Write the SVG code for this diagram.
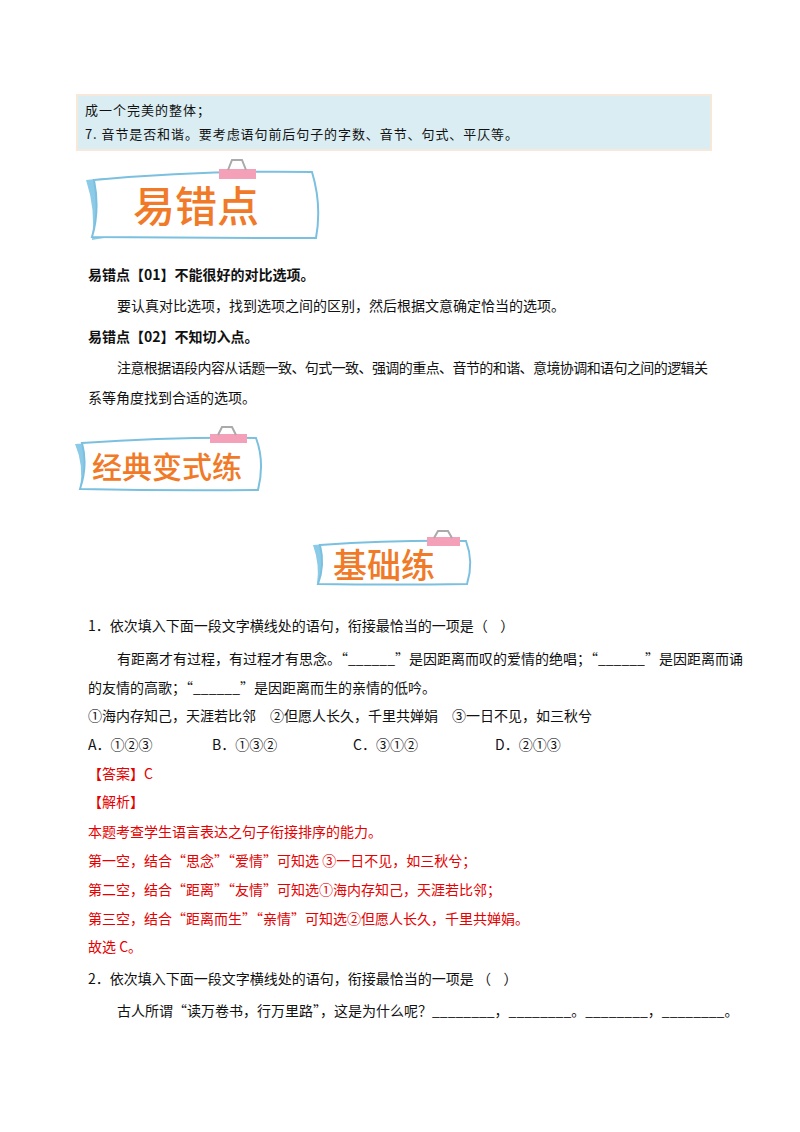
<svg xmlns="http://www.w3.org/2000/svg" width="800" height="1132" viewBox="0 0 800 1132">
<style>
text{font-family:"Noto Sans CJK SC","Liberation Serif",serif;font-size:14px;fill:#111;white-space:pre}
.b{font-weight:bold}
.r{fill:#e60000}
.ban{fill:#f07a28;font-weight:500}
.note{fill:#fff;stroke:#7cc0e0;stroke-width:2}
.flap{fill:#8ccbe8}
.clip{fill:#f3a0b8}
.ring{fill:none;stroke:#aaa;stroke-width:2}
</style>
<rect width="800" height="1132" fill="#fff"/>
<g id="tipbox">
<rect x="77" y="95" width="634" height="55" fill="#daedf2" stroke="#f7e8da" stroke-width="2"/>
<text x="85" y="115" style="font-size:13px" textLength="125">成一个完美的整体；</text>
<text x="85" y="139" style="font-size:13px" textLength="433">7. 音节是否和谐。要考虑语句前后句子的字数、音节、句式、平仄等。</text>
</g>
<g id="banner1">
<path class="flap" d="M86,180 L106,178 L104,238 L92,240 Q96,210 86,180Z"/>
<path class="note" d="M94,180 Q200,170 312,172 Q322,205 316,238 Q200,238 92,237 Q100,210 94,180Z"/>
<rect class="clip" x="219" y="169" width="37" height="10"/>
<path class="ring" d="M228,170 L232,160 L242,160 L246,170"/>
<text class="ban" x="133" y="222" style="font-size:42px">易错点</text>
</g>
<g id="body1">
<text class="b" x="88" y="280">易错点【01】不能很好的对比选项。</text>
<text x="117" y="311">要认真对比选项，找到选项之间的区别，然后根据文意确定恰当的选项。</text>
<text class="b" x="88" y="342">易错点【02】不知切入点。</text>
<text x="117" y="373" textLength="591">注意根据语段内容从话题一致、句式一致、强调的重点、音节的和谐、意境协调和语句之间的逻辑关</text>
<text x="88" y="403">系等角度找到合适的选项。</text>
</g>
<g id="banner2">
<path class="flap" d="M75,444 L92,443 L90,487 L80,489 Q84,465 75,444Z"/>
<path class="note" d="M82,443 Q170,437 256,438 Q265,462 258,490 Q170,491 80,489 Q88,465 82,443Z"/>
<rect class="clip" x="210" y="434" width="37" height="9"/>
<path class="ring" d="M218,435 L222,427 L232,427 L236,435"/>
<text class="ban" x="92" y="478" style="font-size:30px">经典变式练</text>
</g>
<g id="banner3">
<path class="flap" d="M313,545 L328,544 L326,583 L317,584 Q320,565 313,545Z"/>
<path class="note" d="M320,545 Q395,540 466,541 Q474,562 467,584 Q395,585 318,584 Q325,565 320,545Z"/>
<rect class="clip" x="427" y="537" width="33" height="9"/>
<path class="ring" d="M434,538 L438,531 L448,531 L452,538"/>
<text class="ban" x="333" y="578" style="font-size:34px">基础练</text>
</g>
<g id="q1">
<text x="88" y="631">1．依次填入下面一段文字横线处的语句，衔接最恰当的一项是（    ）</text>
<text x="117" y="664">有距离才有过程，有过程才有思念。“______”是因距离而叹的爱情的绝唱；“______”是因距离而诵</text>
<text x="88" y="693">的友情的高歌；“______”是因距离而生的亲情的低吟。</text>
<text x="88" y="721">①海内存知己，天涯若比邻　②但愿人长久，千里共婵娟　③一日不见，如三秋兮</text>
<text x="88" y="750">A．①②③</text>
<text x="212" y="750">B．①③②</text>
<text x="353" y="750">C．③①②</text>
<text x="495" y="750">D．②①③</text>
<text class="r" x="88" y="779">【答案】C</text>
<text class="r" x="88" y="807">【解析】</text>
<text class="r" x="88" y="837">本题考查学生语言表达之句子衔接排序的能力。</text>
<text class="r" x="88" y="866">第一空，结合“思念”“爱情”可知选 ③一日不见，如三秋兮；</text>
<text class="r" x="88" y="895">第二空，结合“距离”“友情”可知选①海内存知己，天涯若比邻；</text>
<text class="r" x="88" y="924">第三空，结合“距离而生”“亲情”可知选②但愿人长久，千里共婵娟。</text>
<text class="r" x="88" y="952">故选 C。</text>
</g>
<g id="q2">
<text x="88" y="984">2．依次填入下面一段文字横线处的语句，衔接最恰当的一项是 （    ）</text>
<text x="117" y="1016">古人所谓“读万卷书，行万里路”，这是为什么呢？________，________。________，________。</text>
</g>
</svg>
